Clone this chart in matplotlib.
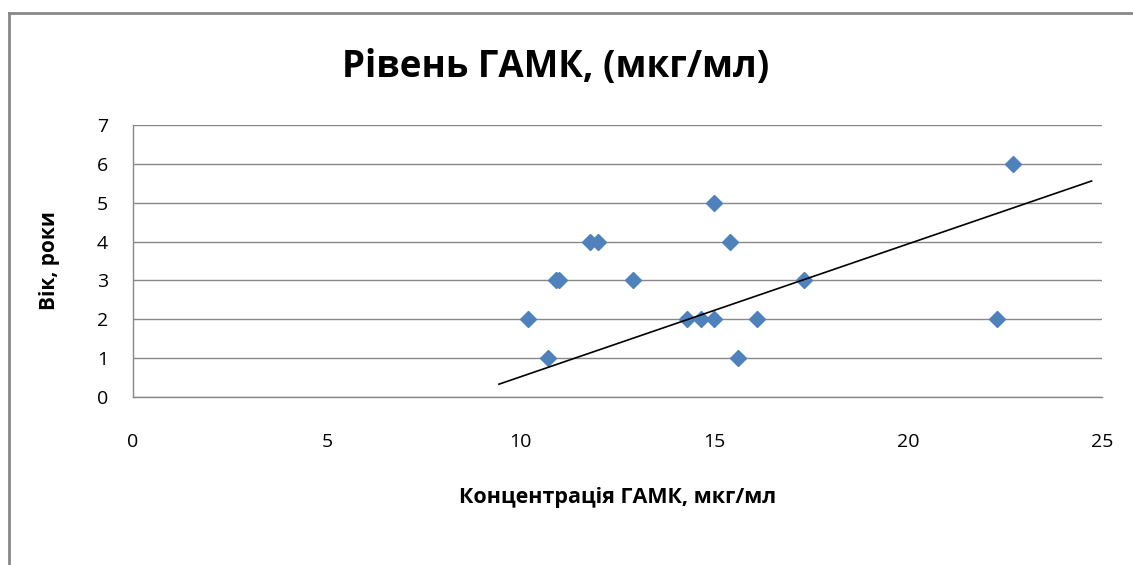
import matplotlib
matplotlib.use("Agg")
import matplotlib.pyplot as plt
from matplotlib.lines import Line2D

plt.rcParams['font.family'] = ['Open Sans', 'DejaVu Sans']

# GABA concentration (x) vs age (y)
gaba = [10.2, 10.7, 10.9, 11.0, 11.8, 12.0, 12.9, 14.3, 14.65, 15.0,
        15.0, 15.4, 15.6, 16.1, 17.3, 22.3, 22.7]
age = [2, 1, 3, 3, 4, 4, 3, 2, 2, 2, 5, 4, 1, 2, 3, 2, 6]

# trend line ends as drawn in the picture
trend_x = [9.44, 24.73]
trend_y = [0.33, 5.56]

x_ticks = [0, 5, 10, 15, 20, 25]
y_ticks = [0, 1, 2, 3, 4, 5, 6, 7]

title = "Рівень ГАМК, (мкг/мл)"
x_label = "Концентрація ГАМК, мкг/мл"
y_label = "Вік, роки"

grey = "#888888"

fig = plt.figure(figsize=(11.33, 5.65), dpi=100)
ax = fig.add_axes([0.1174, 0.2973, 0.8553, 0.4814])

ax.plot(gaba, age, linestyle="none", marker="D", markersize=8.5,
        color="#4F81BD", zorder=3)
ax.plot(trend_x, trend_y, color="black", linewidth=1.2, zorder=4)

ax.set_xlim(0, 25)
ax.set_ylim(0, 7)
ax.set_xticks(x_ticks)
ax.set_yticks(y_ticks)
ax.tick_params(axis="both", length=0, labelsize=14, colors="black")
ax.tick_params(axis="y", pad=18)
ax.tick_params(axis="x", pad=26)
ax.yaxis.grid(True, color=grey, linewidth=1)
ax.set_axisbelow(True)

for s in ["top", "right"]:
    ax.spines[s].set_visible(False)
for s in ["left", "bottom"]:
    ax.spines[s].set_color(grey)
    ax.spines[s].set_linewidth(1)

ax.set_xlabel(x_label, fontsize=15.5, fontweight="bold")
ax.set_ylabel(y_label, fontsize=15, fontweight="bold")
ax.xaxis.set_label_coords(0.5, -0.33)
ax.yaxis.set_label_coords(-0.0753, 0.5)

fig.text(0.49, 1 - 77 / 565, title, fontsize=26.5, fontweight="bold",
         ha="center", va="baseline")

# outer chart frame (left and top edges visible)
fig.add_artist(Line2D([9 / 1133, 9 / 1133], [0, 1 - 13 / 565],
                      color=grey, linewidth=2))
fig.add_artist(Line2D([9 / 1133, 1], [1 - 13 / 565, 1 - 13 / 565],
                      color=grey, linewidth=2))

fig.savefig("out.png", dpi=100)
